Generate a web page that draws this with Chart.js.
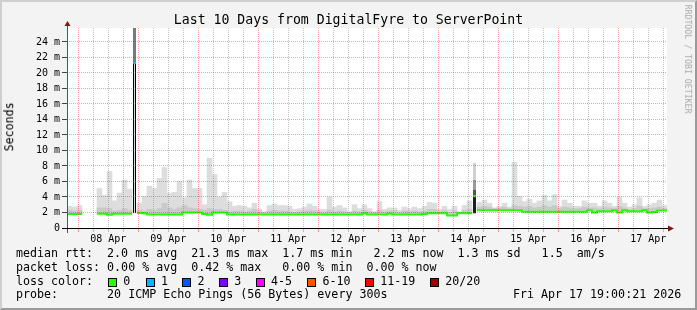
<!DOCTYPE html>
<html lang="en">
<head>
<meta charset="UTF-8" />
<title>Last 10 Days from DigitalFyre to ServerPoint</title>
<script src="https://cdn.jsdelivr.net/npm/chart.js"></script>
<style>
  * { box-sizing: border-box; margin: 0; padding: 0; }
  body { width: 697px; height: 310px; overflow: hidden; background: #f3f3f3;
    font-family: 'DejaVu Sans Mono', monospace; color: #000; }
  #wrap { position: relative; width: 697px; height: 310px; }
  #chart { position: absolute; left: 0; top: 0; }
  .txt { position: absolute; white-space: pre; font-size: 11.65px; line-height: 11.65px; }
  #title { left: 0; width: 697px; top: 12.8px; text-align: center; font-size: 13.2px; line-height: 13.2px; }
  #ylabel { left: -20px; top: 120.7px; width: 60px; text-align: center; transform: rotate(-90deg); }
  #mark { left: 627.8px; top: 55.4px; width: 120px; text-align: center; font-size: 8.23px;
    line-height: 8.23px; color: #a8a8a8; transform: rotate(90deg); }
  .box { position: absolute; width: 9px; height: 9px; border: 1px solid #000; }
  #frame { position: absolute; left: 0; top: 0; width: 697px; height: 310px; pointer-events: none;
    border-top: 2px solid #cfcfcf; border-left: 2px solid #cfcfcf;
    border-right: 2px solid #9a9a9a; border-bottom: 2px solid #9a9a9a; }
</style>
</head>
<body>
<div id="wrap">
  <canvas id="chart" width="697" height="310"></canvas>
  <div class="txt" id="title">Last 10 Days from DigitalFyre to ServerPoint</div>
  <div class="txt" id="ylabel">Seconds</div>
  <div class="txt" id="mark">RRDTOOL / TOBI OETIKER</div>
  <div class="txt" style="left:16px;top:248.4px">median rtt:  2.0 ms avg  21.3 ms max  1.7 ms min   2.2 ms now  1.3 ms sd   1.5  am/s</div>
  <div class="txt" style="left:16px;top:261.9px">packet loss: 0.00 % avg  0.42 % max   0.00 % min  0.00 % now</div>
  <div class="txt" style="left:16px;top:275.6px">loss color:</div>
  <div id="lossLegend"></div>
  <div class="txt" style="left:16px;top:289.1px">probe:       20 ICMP Echo Pings (56 Bytes) every 300s</div>
  <div class="txt" style="left:513px;top:289.1px">Fri Apr 17 19:00:21 2026</div>
  <div id="frame"></div>
</div>

<script>
  // time axis: hours since 08 Apr 00:00, one bin = 2 hours
  const binStartHour = -4.5;
  const binWidthHours = 2;
  const dayLabels = ['08 Apr', '09 Apr', '10 Apr', '11 Apr', '12 Apr', '13 Apr', '14 Apr', '15 Apr', '16 Apr', '17 Apr'];

  // median rtt per bin (ms)
  const medianRtt = [
    1.8, 1.8, 1.8, null, null, null, 1.85, 1.85, 1.7, 1.85,
    1.85, 1.85, 1.85, 21.3, 1.95, 1.9, 1.75, 1.75, 1.75, 1.75,
    1.75, 1.75, 1.75, 2.0, 2.0, 2.0, 2.0, 1.8, 1.7, 2.0,
    2.0, 2.0, 1.75, 1.75, 1.75, 1.75, 1.75, 1.75, 1.75, 1.75,
    1.75, 1.75, 1.75, 1.75, 1.75, 1.75, 1.75, 1.75, 1.75, 1.75,
    1.75, 1.75, 1.75, 1.75, 1.75, 1.75, 1.75, 1.75, 1.75, 1.9,
    1.75, 1.75, 1.75, 1.75, 1.85, 1.75, 1.75, 1.75, 1.75, 1.75,
    1.75, 1.8, 1.9, 1.9, 1.9, 1.9, 1.6, 1.6, 1.9, 1.9,
    1.9, 4.1, 2.3, 2.3, 2.3, 2.3, 2.3, 2.3, 2.3, 2.3,
    2.3, 2.1, 2.1, 2.1, 2.1, 2.1, 2.1, 2.1, 2.1, 2.1,
    2.1, 2.1, 2.1, 2.1, 2.3, 2.0, 2.15, 2.15, 2.15, 2.3,
    2.0, 2.3, 2.15, 2.15, 2.15, 2.3, 2.0, 2.05, 2.25, 2.25
  ];

  // top of the smoke (slowest ping) per bin (ms)
  const smokeMax = [
    2.8, 2.7, 2.9, null, null, null, 5.1, 4.2, 7.3, 3.5,
    4.5, 6.2, 5.0, null, 3.2, 4.1, 5.4, 5.1, 6.4, 7.8,
    4.5, 4.6, 6.0, 3.9, 6.2, 5.1, 5.1, 3.0, 9.0, 6.9,
    4.0, 4.6, 3.4, 2.8, 2.9, 2.8, 2.6, 3.2, 2.4, 2.1,
    2.9, 3.1, 2.9, 2.9, 2.8, 2.4, 2.5, 2.7, 3.1, 2.8,
    2.4, 2.4, 4.0, 2.7, 2.9, 2.6, 2.1, 3.0, 2.5, 3.0,
    2.5, 2.1, 3.4, 2.4, 2.6, 2.6, 2.3, 2.7, 2.5, 2.7,
    2.5, 2.8, 3.3, 3.2, 2.4, 2.8, 2.4, 2.8, 2.1, 2.9,
    3.5, null, 3.3, 3.6, 3.2, 2.6, 2.8, 3.2, 2.7, 8.5,
    4.1, 3.4, 3.7, 3.2, 3.5, 4.2, 3.5, 4.3, 2.8, 3.6,
    3.2, 2.8, 2.8, 3.5, 3.2, 3.2, 2.8, 3.5, 3.2, 2.8,
    4.0, 3.2, 2.7, 3.0, 3.9, 2.8, 3.0, 3.2, 3.6, 2.9
  ];

  // denser part of the smoke per bin (ms)
  const smokeCore = [
    2.3, 2.2, 2.3, null, null, null, 2.6, 2.6, 2.5, 2.2,
    2.3, 2.5, 2.3, null, 2.3, 2.2, 2.4, 2.3, 2.5, 3.2,
    2.6, 2.4, 2.6, 2.9, 2.6, 2.5, 2.4, 2.3, 2.5, 2.4,
    2.4, 2.3, 2.1, 2.2, 2.2, 2.1, 2.2, 2.4, 2.1, 2.0,
    2.2, 2.3, 2.2, 2.2, 2.1, 2.0, 2.1, 2.2, 2.3, 2.2,
    2.1, 2.0, 2.3, 2.1, 2.2, 2.1, 2.0, 2.2, 2.1, 2.3,
    2.1, 2.0, 2.3, 2.1, 2.2, 2.2, 2.0, 2.2, 2.1, 2.2,
    2.1, 2.2, 2.4, 2.4, 2.1, 2.3, 2.0, 2.2, 2.0, 2.3,
    2.4, null, 2.7, 2.8, 2.7, 2.5, 2.6, 2.7, 2.5, 2.9,
    2.8, 2.7, 2.8, 2.6, 2.7, 2.9, 2.7, 2.9, 2.5, 2.7,
    2.6, 2.5, 2.5, 2.7, 2.6, 2.6, 2.5, 2.7, 2.6, 2.5,
    2.8, 2.6, 2.4, 2.5, 2.8, 2.5, 2.5, 2.6, 2.7, 2.5
  ];

  // the two outlier bins, drawn as stacked smoke layers
  const spikeBins = [13, 81];
  const spikeLayerBin = [13, 13, 81, 81, 81, 81];
  const spikeLayerLo = [1.9, 21.3, 1.9, 4.1, 4.9, 6.2];
  const spikeLayerHi = [21.3, 25.8, 4.1, 4.9, 6.2, 8.4];
  const spikeLayerColors = ['#dcdcdc', '#7a7a7a', '#1e1e1e', '#555555', '#9a9a9a', '#d0d0d0'];
  const spikeLossColors = ['#00b8ff', '#26ff00'];

  const lossLabels = ['0', '1', '2', '3', '4-5', '6-10', '11-19', '20/20'];
  const lossColors = ['#26ff00', '#00b8ff', '#0059ff', '#7e00ff', '#ff00ff', '#ff5500', '#ff0000', '#a10000'];

  // loss colour legend
  const boxLeft = [108, 145.7, 182.3, 219, 255.7, 307.3, 365, 430];
  const lossLegend = document.getElementById('lossLegend');
  lossLabels.forEach((lab, i) => {
    const b = document.createElement('div');
    b.className = 'box';
    b.style.left = boxLeft[i] + 'px';
    b.style.top = '277.7px';
    b.style.background = lossColors[i];
    lossLegend.appendChild(b);
    const t = document.createElement('div');
    t.className = 'txt';
    t.style.left = (boxLeft[i] + 15.3) + 'px';
    t.style.top = '275.6px';
    t.textContent = lab;
    lossLegend.appendChild(t);
  });

  const binCenter = i => binStartHour + binWidthHours * (i + 0.5);

  const smokeData = [];
  const coreData = [];
  medianRtt.forEach((m, i) => {
    if (m == null) return;
    if (smokeMax[i] != null) smokeData.push({ x: binCenter(i), y: [m, smokeMax[i]] });
    if (smokeCore[i] != null) coreData.push({ x: binCenter(i), y: [m, smokeCore[i]] });
  });

  const medianPoints = [];
  medianRtt.forEach((m, i) => {
    const start = binStartHour + i * binWidthHours;
    if (m == null || spikeBins.includes(i)) {
      medianPoints.push({ x: start, y: null });
      return;
    }
    medianPoints.push({ x: start, y: m }, { x: start + binWidthHours, y: m });
  });

  const spikeSets = spikeLayerBin.map((bin, k) => ({
    type: 'bar',
    order: 4,
    data: [{ x: binCenter(bin), y: [spikeLayerLo[k], spikeLayerHi[k]] }],
    backgroundColor: spikeLayerColors[k],
    barPercentage: 0.6,
    borderColor: '#000',
    borderSkipped: false,
    borderWidth: k === 0 ? { left: 1, right: 1, top: 0, bottom: 0 } : 0
  }));

  const majorGrid = 'rgba(255, 0, 0, 0.38)';
  const minorGrid = 'rgba(110, 110, 110, 0.4)';

  const bgAndAxes = {
    id: 'bgAndAxes',
    beforeDraw(chart) {
      const { ctx, chartArea: a } = chart;
      ctx.save();
      ctx.fillStyle = '#fff';
      ctx.fillRect(a.left, a.top, a.right - a.left, a.bottom - a.top);
      ctx.restore();
    },
    afterDraw(chart) {
      const { ctx, chartArea: a } = chart;
      ctx.save();
      ctx.lineWidth = 1;
      ctx.strokeStyle = '#555';
      ctx.beginPath();
      ctx.moveTo(a.left + 0.5, a.bottom + 5);
      ctx.lineTo(a.left + 0.5, a.top - 2);
      ctx.stroke();
      ctx.strokeStyle = '#000';
      ctx.beginPath();
      ctx.moveTo(a.left - 5, a.bottom + 0.5);
      ctx.lineTo(a.right + 1, a.bottom + 0.5);
      ctx.stroke();
      ctx.fillStyle = '#7f1717';
      ctx.beginPath();
      ctx.moveTo(a.left - 2.5, a.top - 2);
      ctx.lineTo(a.left + 3.5, a.top - 2);
      ctx.lineTo(a.left + 0.5, a.top - 7);
      ctx.closePath();
      ctx.fill();
      ctx.beginPath();
      ctx.moveTo(a.right + 1, a.bottom - 2.5);
      ctx.lineTo(a.right + 1, a.bottom + 3.5);
      ctx.lineTo(a.right + 7, a.bottom + 0.5);
      ctx.closePath();
      ctx.fill();
      ctx.restore();
    }
  };

  Chart.defaults.font.family = "'DejaVu Sans Mono', monospace";
  Chart.defaults.font.size = 10;
  Chart.defaults.color = '#000';

  new Chart(document.getElementById('chart'), {
    type: 'bar',
    data: {
      datasets: [
        { type: 'bar', order: 6, data: smokeData, backgroundColor: '#dddddd' },
        { type: 'bar', order: 5, data: coreData, backgroundColor: '#c9c9c9' },
        ...spikeSets,
        {
          type: 'line', order: 2, data: medianPoints,
          borderColor: '#26ff00', borderWidth: 2, pointRadius: 0,
          spanGaps: false, tension: 0
        },
        {
          type: 'bar', order: 1,
          data: spikeBins.map(b => ({ x: binCenter(b), y: [medianRtt[b] - 0.13, medianRtt[b] + 0.13] })),
          backgroundColor: spikeLossColors,
          barPercentage: 0.6
        }
      ]
    },
    options: {
      responsive: false,
      animation: false,
      events: [],
      layout: { padding: { top: 28, right: 30, left: 0, bottom: 0 } },
      datasets: { bar: { grouped: false, barPercentage: 1, categoryPercentage: 1 } },
      plugins: { legend: { display: false }, tooltip: { enabled: false }, title: { display: false } },
      scales: {
        x: {
          type: 'linear',
          min: binStartHour,
          max: binStartHour + medianRtt.length * binWidthHours,
          offset: false,
          afterBuildTicks(axis) {
            const t = [];
            for (let h = 0; h <= axis.max; h += 6) t.push({ value: h });
            axis.ticks = t;
          },
          afterFit(axis) { axis.height = 82; },
          ticks: {
            autoSkip: false, maxRotation: 0, padding: 1,
            callback: v => (v % 24 === 12 ? dayLabels[(v - 12) / 24] : '')
          },
          grid: {
            z: 1, offset: false, tickLength: 4,
            color: c => (c.tick && c.tick.value % 24 === 0 ? majorGrid : minorGrid)
          },
          border: { display: false, dash: [1, 1] }
        },
        y: {
          min: 0,
          max: 25.8,
          afterBuildTicks(axis) {
            const t = [];
            for (let v = 0; v <= axis.max; v += 1) t.push({ value: v });
            axis.ticks = t;
          },
          afterFit(axis) { axis.width = 67; },
          ticks: {
            padding: 2,
            callback: v => (v % 2 === 0 ? (v === 0 ? '0' : v + ' m') : '')
          },
          grid: {
            z: 1, tickLength: 5,
            color: c => (c.tick && c.tick.value === 0 ? 'rgba(0,0,0,0)' : (c.tick && c.tick.value % 2 === 0 ? majorGrid : minorGrid)),
            tickColor: c => (c.tick && c.tick.value % 2 === 0 ? '#444' : 'rgba(0,0,0,0)')
          },
          border: { display: false, dash: [1, 1] }
        }
      }
    },
    plugins: [bgAndAxes]
  });
</script>
</body>
</html>
